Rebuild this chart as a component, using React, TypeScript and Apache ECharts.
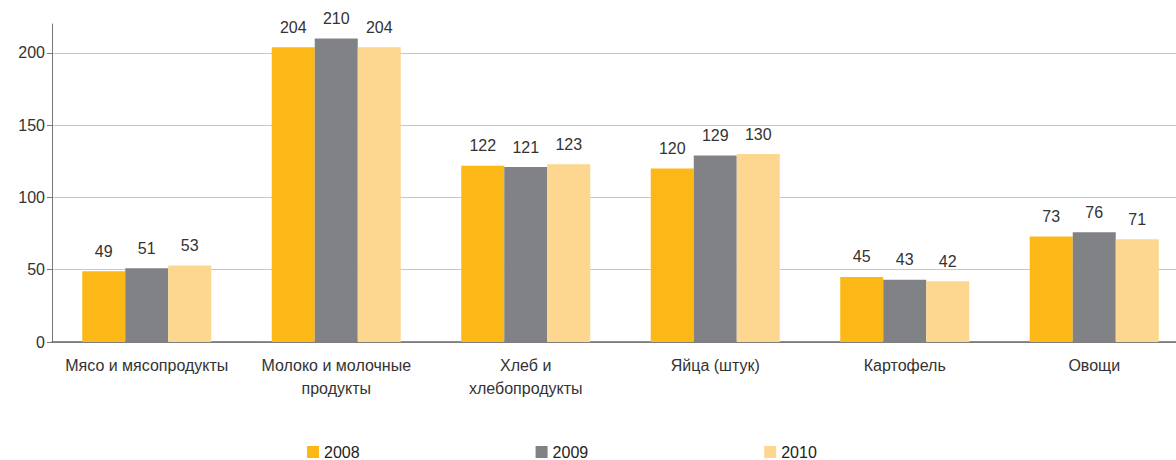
import React, { useEffect, useRef } from "react";
import * as echarts from "echarts";

const categories = [
  "Мясо и мясопродукты",
  "Молоко и молочные\nпродукты",
  "Хлеб и\nхлебопродукты",
  "Яйца (штук)",
  "Картофель",
  "Овощи",
];
const seriesNames = ["2008", "2009", "2010"];
const values2008 = [49, 204, 122, 120, 45, 73];
const values2009 = [51, 210, 121, 129, 43, 76];
const values2010 = [53, 204, 123, 130, 42, 71];
const colors = ["#FBB817", "#818286", "#FDD78F"];

const FONT = "'Liberation Sans', Arial, sans-serif";
const FS = 16;

export default function App() {
  const ref = useRef<HTMLDivElement>(null);
  useEffect(() => {
    if (!ref.current) return;
    const chart = echarts.init(ref.current, null, { renderer: "svg" });
    const data = [values2008, values2009, values2010];
    chart.setOption({
      animation: false,
      textStyle: { fontFamily: FONT },
      grid: { left: 52, right: 1, top: 24, bottom: 118, containLabel: false },
      legend: {
        left: 307,
        top: 444,
        padding: 0,
        itemWidth: 12,
        itemHeight: 12,
        itemGap: 176,
        itemStyle: { borderWidth: 0 },
        icon: "rect",
        textStyle: { fontSize: FS, color: "#222", fontFamily: FONT, lineHeight: 16 },
        data: seriesNames,
      },
      xAxis: {
        type: "category",
        data: categories,
        axisLine: { lineStyle: { color: "#666", width: 1.5 } },
        axisTick: { length: 5, lineStyle: { color: "#aaa" } },
        axisLabel: {
          fontSize: FS,
          color: "#333",
          margin: 12,
          lineHeight: 23,
          fontFamily: FONT,
          interval: 0,
        },
      },
      yAxis: {
        type: "value",
        min: 0,
        max: 220,
        interval: 50,
        axisLine: { show: true, lineStyle: { color: "#777" } },
        axisTick: { show: true, length: 5, lineStyle: { color: "#777" } },
        axisLabel: {
          fontSize: FS,
          color: "#333",
          margin: 7,
          fontFamily: FONT,
          showMaxLabel: false,
        },
        splitLine: {
          show: true,
          lineStyle: {
            color: ["#c8c8c8", "#c8c8c8", "#c8c8c8", "#c8c8c8", "#c8c8c8", "rgba(0,0,0,0)"],
          },
        },
      },
      series: seriesNames.map((name, i) => ({
        name,
        type: "bar",
        data: data[i],
        barWidth: 43,
        barGap: "0%",
        itemStyle: { color: colors[i] },
        label: {
          show: true,
          position: "top",
          distance: 12,
          fontSize: FS,
          color: "#333",
          fontFamily: FONT,
        },
      })),
    });
    return () => chart.dispose();
  }, []);
  return (
    <div
      style={{ position: "absolute", left: 0, top: 0, width: 1176, height: 460, overflow: "hidden", background: "#fff" }}
    >
      <div ref={ref} style={{ width: 1190, height: 460 }} />
    </div>
  );
}
